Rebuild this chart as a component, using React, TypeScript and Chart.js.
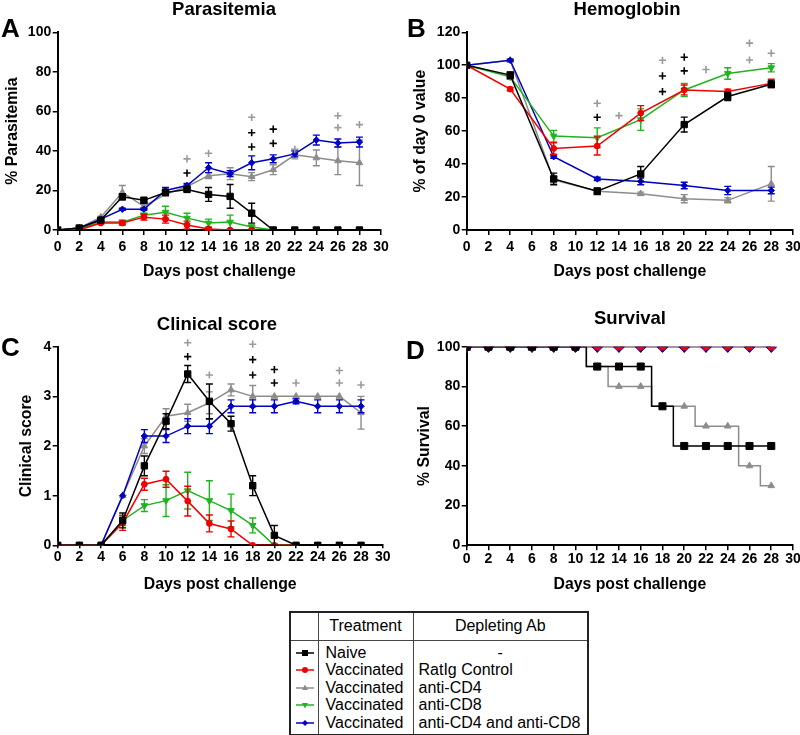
import React, { useEffect, useRef } from "react";
import { Chart, registerables } from "chart.js";

Chart.register(...registerables);

const FONT = "'Liberation Sans', Arial, Helvetica, sans-serif";
Chart.defaults.font.family = FONT;

// ---------- data ----------
const DAYS = [0, 2, 4, 6, 8, 10, 12, 14, 16, 18, 20, 22, 24, 26, 28];
const HB_DAYS = [0, 4, 8, 12, 16, 20, 24, 28];

// A: Parasitemia (%)
const paraNaive = [0, 1, 5, 16.8, 15, 19, 20.5, 18, 17, 8.5, 0, 0, 0, 0, 0];
const paraNaiveErr = [0, 0.5, 1, 1.5, 1.5, 1.5, 1, 3.5, 6, 5, 0, 0, 0, 0, 0];
const paraRat = [0, 0, 3.5, 3.5, 6.5, 5.5, 2.5, 0.5, 0, 0, 0];
const paraRatErr = [0, 0, 0.5, 1, 1.5, 2, 2, 0.5, 0, 0, 0];
const paraCD4 = [0, 1, 6.5, 19, 12, 18, 22, 27.5, 28.5, 27, 30.5, 38, 36.5, 35, 34];
const paraCD4Err = [0, 0, 0.5, 3.5, 1, 1, 1, 1.5, 3, 2, 2.5, 2, 4, 7, 11.5];
const paraCD8 = [0, 0.5, 4, 4, 7.5, 9, 6, 3.5, 4, 1.5, 0];
const paraCD8Err = [0, 0, 0.5, 1, 1, 3, 2.5, 2, 3.5, 1, 0];
const paraBoth = [0, 1, 5.5, 10.5, 10.5, 20, 22.5, 31.5, 28.5, 34, 36, 38.5, 45.5, 44, 44.5];
const paraBothErr = [0, 0, 0.5, 0.5, 0.5, 1.5, 1, 2.5, 1.5, 3.5, 2, 1.5, 2.5, 2, 2.5];
const paraPlusGray = [[12, 36], [14, 38.8], [18, 57], [22, 40.8], [26, 57.8], [26, 51.8], [28, 53.3]];
const paraPlusBlack = [[12, 28.8], [18, 49.2], [18, 42], [20, 51], [20, 43.8]];

// B: Hemoglobin (% of day 0)
const hbNaive = [100, 94, 31, 23.5, 34, 64, 81, 88.5];
const hbNaiveErr = [0, 2, 3.5, 2, 4.5, 4.5, 2.5, 2];
const hbRat = [100, 85.5, 49.5, 51, 71, 85, 84, 89];
const hbRatErr = [0, 1, 3.5, 5.5, 4.5, 3, 1.5, 2.5];
const hbCD4 = [100, 103, 30.5, 23.5, 22, 19, 18, 28];
const hbCD4Err = [0, 1, 2, 1.5, 1, 2.5, 1.5, 10.5];
const hbCD8 = [100, 93, 57, 56, 67, 85, 95, 98.5];
const hbCD8Err = [0, 1.5, 3.5, 6, 6.5, 4, 3.5, 2.5];
const hbBoth = [100, 103, 44.5, 31, 29.5, 27, 24, 24];
const hbBothErr = [0, 0.5, 1, 1, 2, 2, 2.5, 2];
const hbPlusGray = [[12, 76.9], [14, 69.4], [18, 103], [22, 97.4], [26, 113.4], [26, 103.2], [28, 107.3]];
const hbPlusBlack = [[12, 68.4], [18, 93.5], [18, 84], [20, 104.9], [20, 96.6]];

// C: Clinical score
const csNaive = [0, 0, 0, 0.5, 1.6, 2.5, 3.45, 2.9, 2.45, 1.2, 0.2, 0, 0, 0, 0];
const csNaiveErr = [0, 0, 0, 0.15, 0.2, 0.15, 0.17, 0.35, 0.15, 0.2, 0.2, 0, 0, 0, 0];
const csRat = [0, 0, 0, 0.45, 1.23, 1.33, 0.89, 0.44, 0.33, 0, 0, 0];
const csRatErr = [0, 0, 0, 0.15, 0.12, 0.16, 0.3, 0.17, 0.16, 0, 0, 0];
const csCD4 = [0, 0, 0, 1, 2, 2.6, 2.67, 2.87, 3.13, 3, 3, 3, 3, 3, 2.67];
const csCD4Err = [0, 0, 0, 0, 0.15, 0.15, 0.17, 0.22, 0.12, 0.22, 0, 0, 0, 0, 0.33];
const csCD8 = [0, 0, 0, 0.5, 0.8, 0.9, 1.1, 0.9, 0.7, 0.4, 0, 0];
const csCD8Err = [0, 0, 0, 0.1, 0.12, 0.32, 0.37, 0.4, 0.33, 0.15, 0, 0];
const csBoth = [0, 0, 0, 1, 2.2, 2.2, 2.4, 2.4, 2.8, 2.8, 2.8, 2.9, 2.8, 2.8, 2.8];
const csBothErr = [0, 0, 0, 0, 0.13, 0.13, 0.15, 0.15, 0.13, 0.13, 0.13, 0.05, 0.13, 0.13, 0.13];
const csPlusGray = [[12, 4.08], [14, 3.43], [18, 4.05], [22, 3.27], [26, 3.52], [26, 3.27], [28, 3.23]];
const csPlusBlack = [[12, 3.8], [18, 3.74], [18, 3.43], [20, 3.54], [20, 3.27]];

// D: Survival (%)
const survNaive = [100, 100, 100, 100, 100, 100, 90, 90, 90, 70, 50, 50, 50, 50, 50];
const survRat = [100, 100, 100, 100, 100, 100, 100, 100, 100, 100, 100, 100, 100, 100, 100];
const survCD4 = [100, 100, 100, 100, 100, 100, 90, 80, 80, 70, 70, 60, 60, 40, 30];
const survCD8 = [100, 100, 100, 100, 100, 100, 100, 100, 100, 100, 100, 100, 100, 100, 100];
const survBoth = [100, 100, 100, 100, 100, 100, 100, 100, 100, 100, 100, 100, 100, 100, 100];
const stepNaiveT = [0, 11, 17, 19, 28];
const stepNaiveV = [100, 90, 70, 50, 50];
const stepCD4T = [0, 11, 13, 17, 21, 25, 27, 28];
const stepCD4V = [100, 90, 80, 70, 60, 40, 30, 30];
const stepFlatT = [0, 28];
const stepFlatV = [100, 100];

const TREATMENTS = ["Naive", "Vaccinated", "Vaccinated", "Vaccinated", "Vaccinated"];
const DEPLETING = ["-", "RatIg Control", "anti-CD4", "anti-CD8", "anti-CD4 and anti-CD8"];

// ---------- styles ----------
const BLACK = "#000000";
const RED = "#f00000";
const GRAY = "#8c8c8c";
const GREEN = "#1fb41f";
const BLUE = "#0000c4";
const PLUS_GRAY = "#9a9a9a";

type St = { color: string; ps: string; r: number; rot?: number; lw?: number };
const S_NAIVE: St = { color: BLACK, ps: "rect", r: 4.5 };
const S_RAT: St = { color: RED, ps: "circle", r: 2.9 };
const S_CD4: St = { color: GRAY, ps: "triangle", r: 3.8 };
const S_CD8: St = { color: GREEN, ps: "triangle", r: 3.8, rot: 180 };
const S_BOTH: St = { color: BLUE, ps: "rectRot", r: 3.2 };

const errorBars = {
  id: "errorBars",
  beforeDatasetDraw(chart: any, args: any) {
    const ds = chart.data.datasets[args.index];
    const errs = ds.errors;
    if (!errs) return;
    const ys = chart.scales.y;
    const ctx = chart.ctx;
    ctx.save();
    ctx.strokeStyle = ds.borderColor;
    ctx.lineWidth = 1.4;
    args.meta.data.forEach((el: any, i: number) => {
      const raw = ds.data[i];
      const e = errs[i];
      if (!e || raw == null || raw.y == null) return;
      const px = el.x;
      const t = ys.getPixelForValue(raw.y + e);
      const b = ys.getPixelForValue(raw.y - e);
      ctx.beginPath();
      ctx.moveTo(px, t);
      ctx.lineTo(px, b);
      ctx.moveTo(px - 3.5, t);
      ctx.lineTo(px + 3.5, t);
      ctx.moveTo(px - 3.5, b);
      ctx.lineTo(px + 3.5, b);
      ctx.stroke();
    });
    ctx.restore();
  },
};

function series(xs: number[], ys: number[], errs: number[] | null, st: St, extra: any = {}) {
  return {
    data: ys.map((v, i) => ({ x: xs[i], y: v })),
    errors: errs,
    borderColor: st.color,
    backgroundColor: st.color,
    borderWidth: st.lw ?? 1.5,
    pointStyle: st.ps,
    pointRadius: st.r,
    pointHoverRadius: st.r,
    pointRotation: st.rot ?? 0,
    pointBorderWidth: 1,
    tension: 0,
    ...extra,
  };
}

function plus(pts: number[][], color: string) {
  return {
    data: pts.map(([x, y]) => ({ x, y })),
    showLine: false,
    pointStyle: "cross",
    pointRadius: 3.6,
    pointHoverRadius: 3.6,
    pointBorderWidth: 1.6,
    borderColor: color,
    backgroundColor: color,
    clip: false,
  };
}

type AxOpt = {
  yMax: number; yStep: number; yTitle: string; yW: number; yTitlePad: number;
  xH: number; xTickLen: number; xTickPad: number; xTitlePad: number;
  padTop: number; padRight: number;
};

function options(o: AxOpt) {
  const tickFont = { family: FONT, size: 14, weight: "bold" as const };
  const titleFont = { family: FONT, size: 15.8, weight: "bold" as const };
  return {
    responsive: false,
    animation: false as const,
    events: [],
    layout: { padding: { left: 0, top: o.padTop, right: o.padRight, bottom: 0 } },
    plugins: { legend: { display: false }, tooltip: { enabled: false }, title: { display: false } },
    scales: {
      x: {
        type: "linear" as const,
        min: 0,
        max: 30,
        afterFit: (s: any) => { s.height = o.xH; },
        ticks: { stepSize: 2, autoSkip: false, maxRotation: 0, minRotation: 0, padding: o.xTickPad, color: "#000", font: tickFont },
        grid: { drawOnChartArea: false, drawTicks: true, tickLength: o.xTickLen, color: "#000", lineWidth: 1.5 },
        border: { color: "#000", width: 2 },
        title: { display: true, text: "Days post challenge", color: "#000", font: titleFont, padding: { top: 0, bottom: o.xTitlePad } },
      },
      y: {
        type: "linear" as const,
        min: 0,
        max: o.yMax,
        afterFit: (s: any) => { s.width = o.yW; },
        ticks: { stepSize: o.yStep, padding: 1.5, color: "#000", font: tickFont },
        grid: { drawOnChartArea: false, drawTicks: true, tickLength: 5, color: "#000", lineWidth: 1.5 },
        border: { color: "#000", width: 2 },
        title: { display: true, text: o.yTitle, color: "#000", font: titleFont, padding: { top: o.yTitlePad, bottom: 0 } },
      },
    },
  };
}

function configA() {
  return {
    type: "line" as const,
    data: {
      datasets: [
        plus(paraPlusBlack, BLACK),
        plus(paraPlusGray, PLUS_GRAY),
        series(DAYS, paraNaive, paraNaiveErr, S_NAIVE),
        series(DAYS, paraRat, paraRatErr, S_RAT),
        series(DAYS, paraCD8, paraCD8Err, S_CD8),
        series(DAYS, paraBoth, paraBothErr, S_BOTH),
        series(DAYS, paraCD4, paraCD4Err, S_CD4),
      ],
    },
    options: options({ yMax: 100, yStep: 20, yTitle: "% Parasitemia", yW: 57.7, yTitlePad: 3.5, xH: 65, xTickLen: 5, xTickPad: 3.3, xTitlePad: 13.5, padTop: 32.3, padRight: 19 }),
    plugins: [errorBars],
  };
}

function configB() {
  return {
    type: "line" as const,
    data: {
      datasets: [
        plus(hbPlusBlack, BLACK),
        plus(hbPlusGray, PLUS_GRAY),
        series(HB_DAYS, hbNaive, hbNaiveErr, S_NAIVE),
        series(HB_DAYS, hbRat, hbRatErr, S_RAT),
        series(HB_DAYS, hbCD8, hbCD8Err, S_CD8),
        series(HB_DAYS, hbBoth, hbBothErr, S_BOTH),
        series(HB_DAYS, hbCD4, hbCD4Err, S_CD4),
      ],
    },
    options: options({ yMax: 120, yStep: 20, yTitle: "% of day 0 value", yW: 66.7, yTitlePad: 11.5, xH: 65, xTickLen: 5, xTickPad: 3.3, xTitlePad: 13.5, padTop: 32.3, padRight: 17 }),
    plugins: [errorBars],
  };
}

function configC() {
  return {
    type: "line" as const,
    data: {
      datasets: [
        plus(csPlusBlack, BLACK),
        plus(csPlusGray, PLUS_GRAY),
        series(DAYS, csNaive, csNaiveErr, S_NAIVE),
        series(DAYS, csRat, csRatErr, S_RAT),
        series(DAYS, csCD8, csCD8Err, S_CD8),
        series(DAYS, csBoth, csBothErr, S_BOTH),
        series(DAYS, csCD4, csCD4Err, S_CD4),
      ],
    },
    options: options({ yMax: 4, yStep: 1, yTitle: "Clinical score", yW: 57.7, yTitlePad: 17, xH: 54.7, xTickLen: 3, xTickPad: 0, xTitlePad: 5.5, padTop: 46.7, padRight: 17.3 }),
    plugins: [errorBars],
  };
}

function configD() {
  const mk = (ys: number[], st: St) => series(DAYS, ys, null, st, { showLine: false });
  const step = (xs: number[], ys: number[], color: string, lw: number) =>
    series(xs, ys, null, { color, ps: "circle", r: 0, lw }, { stepped: "before", pointRadius: 0, pointHoverRadius: 0 });
  return {
    type: "line" as const,
    data: {
      datasets: [
        mk(survNaive, { color: BLACK, ps: "rect", r: 5 }),
        mk(survRat, { color: RED, ps: "circle", r: 3.5 }),
        mk(survCD4, { color: GRAY, ps: "triangle", r: 3.8 }),
        mk(survBoth, { color: BLUE, ps: "rectRot", r: 5.6 }),
        mk(survCD8, { color: GREEN, ps: "triangle", r: 5.8, rot: 180 }),
        step(stepNaiveT, stepNaiveV, BLACK, 1.5),
        step(stepCD4T, stepCD4V, GRAY, 1.5),
        step(stepFlatT, stepFlatV, "#e84040", 1.2),
        step(stepFlatT, stepFlatV, BLUE, 1.2),
        step(stepFlatT, stepFlatV, GREEN, 1.2),
      ],
    },
    options: options({ yMax: 100, yStep: 20, yTitle: "% Survival", yW: 66.7, yTitlePad: 15.5, xH: 54.7, xTickLen: 5, xTickPad: 0.6, xTitlePad: 5.5, padTop: 46.7, padRight: 17 }),
  };
}

function Panel({ left, top, width, height, make }: { left: number; top: number; width: number; height: number; make: () => any }) {
  const ref = useRef<HTMLCanvasElement>(null);
  useEffect(() => {
    const chart = new Chart(ref.current as HTMLCanvasElement, make());
    return () => chart.destroy();
  }, []);
  return (
    <canvas
      ref={ref}
      width={width}
      height={height}
      style={{ position: "absolute", left, top, width, height, display: "block" }}
    />
  );
}

function Label({ text, cx, top, size, left }: { text: string; cx?: number; top: number; size: number; left?: number }) {
  const style: any = {
    position: "absolute",
    top,
    fontFamily: FONT,
    fontWeight: "bold",
    fontSize: size,
    lineHeight: 1,
    whiteSpace: "nowrap",
    color: "#000",
  };
  if (cx !== undefined) {
    style.left = cx;
    style.transform = "translateX(-50%)";
  } else {
    style.left = left;
  }
  return <div style={style}>{text}</div>;
}

function LegendIcon({ idx }: { idx: number }) {
  const colors = [BLACK, RED, GRAY, GREEN, BLUE];
  const c = colors[idx];
  const cx = 14;
  const cy = 9;
  let marker: any = null;
  if (idx === 0) marker = <rect x={cx - 3} y={cy - 3} width={6} height={6} fill={c} />;
  if (idx === 1) marker = <circle cx={cx} cy={cy} r={3} fill={c} />;
  if (idx === 2) marker = <polygon points={`${cx},${cy - 3.5} ${cx + 3},${cy + 2} ${cx - 3},${cy + 2}`} fill={c} />;
  if (idx === 3) marker = <polygon points={`${cx},${cy + 3.5} ${cx + 3},${cy - 2} ${cx - 3},${cy - 2}`} fill={c} />;
  if (idx === 4) marker = <polygon points={`${cx},${cy - 3} ${cx + 3},${cy} ${cx},${cy + 3} ${cx - 3},${cy}`} fill={c} />;
  return (
    <svg width={28} height={17.5} style={{ display: "block" }}>
      <line x1={5} y1={cy} x2={23} y2={cy} stroke={c} strokeWidth={1.5} />
      {marker}
    </svg>
  );
}

function LegendTable() {
  const cellBase: any = { borderLeft: "1px solid #444", padding: 0, verticalAlign: "top" };
  const line: any = { height: 17.5, lineHeight: "17.5px", whiteSpace: "nowrap" };
  return (
    <table
      style={{
        position: "absolute",
        left: 289,
        top: 611,
        width: 298,
        borderCollapse: "collapse",
        border: "2px solid #222",
        fontFamily: FONT,
        fontSize: 16,
        color: "#000",
        tableLayout: "fixed",
      }}
    >
      <colgroup>
        <col style={{ width: 28 }} />
        <col style={{ width: 95 }} />
        <col style={{ width: 175 }} />
      </colgroup>
      <tbody>
        <tr style={{ height: 28 }}>
          <td style={{ padding: 0, borderBottom: "1px solid #444" }} />
          <td style={{ ...cellBase, textAlign: "center", verticalAlign: "middle", borderBottom: "1px solid #444" }}>Treatment</td>
          <td style={{ ...cellBase, textAlign: "center", verticalAlign: "middle", borderBottom: "1px solid #444" }}>Depleting Ab</td>
        </tr>
        <tr>
          <td style={{ padding: "3px 0 3px 0", verticalAlign: "top" }}>
            {TREATMENTS.map((_, i) => (
              <LegendIcon key={i} idx={i} />
            ))}
          </td>
          <td style={{ ...cellBase, padding: "3px 0 3px 7px" }}>
            {TREATMENTS.map((t, i) => (
              <div key={i} style={line}>{t}</div>
            ))}
          </td>
          <td style={{ ...cellBase, padding: "3px 0 3px 5px" }}>
            {DEPLETING.map((t, i) => (
              <div key={i} style={{ ...line, textAlign: i === 0 ? "center" : "left", paddingRight: i === 0 ? 5 : 0 }}>{t}</div>
            ))}
          </td>
        </tr>
      </tbody>
    </table>
  );
}

export default function App() {
  return (
    <div style={{ position: "absolute", left: 0, top: 0, width: 800, height: 735, overflow: "hidden", background: "#fff" }}>
      <Panel left={0} top={0} width={400} height={295} make={configA} />
      <Panel left={400} top={0} width={410} height={295} make={configB} />
      <Panel left={0} top={300} width={400} height={300} make={configC} />
      <Panel left={400} top={300} width={410} height={300} make={configD} />

      <Label text="Parasitemia" cx={224} top={0} size={18.5} />
      <Label text="Hemoglobin" cx={627} top={0} size={18.5} />
      <Label text="Clinical score" cx={217} top={315} size={18.5} />
      <Label text="Survival" cx={630} top={309} size={18.5} />

      <Label text="A" left={1} top={14.6} size={26} />
      <Label text="B" left={407} top={14.6} size={26} />
      <Label text="C" left={1} top={333.6} size={26} />
      <Label text="D" left={406} top={336.6} size={26} />

      <LegendTable />
    </div>
  );
}
